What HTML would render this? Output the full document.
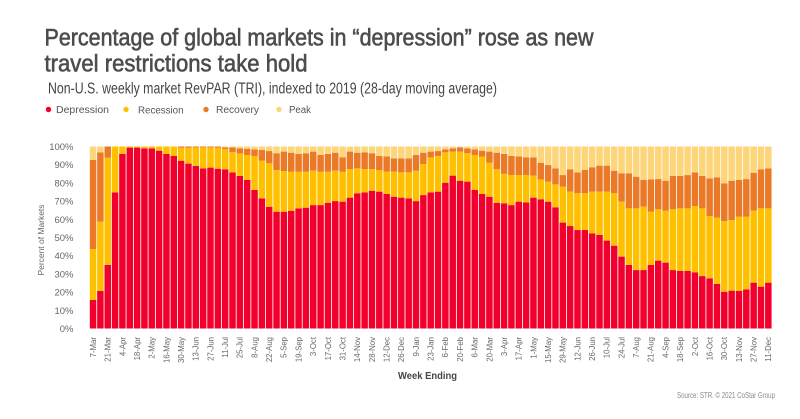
<!DOCTYPE html>
<html>
<head>
<meta charset="utf-8">
<style>
  html,body{margin:0;padding:0;background:#fff;}
  body{width:800px;height:419px;overflow:hidden;}
  svg{display:block;}
  text{font-family:"Liberation Sans",sans-serif;}
</style>
</head>
<body>
<svg id="chart" width="800" height="419" viewBox="0 0 800 419" xmlns="http://www.w3.org/2000/svg">
  <rect x="0" y="0" width="800" height="419" fill="#ffffff"/>
  <!-- Title -->
  <text x="44.5" y="45.5" font-size="24.5" fill="#4c4c4c" stroke="#4c4c4c" stroke-width="0.6" textLength="549" lengthAdjust="spacingAndGlyphs">Percentage of global markets in “depression” rose as new</text>
  <text x="44.5" y="71.5" font-size="24.5" fill="#4c4c4c" stroke="#4c4c4c" stroke-width="0.6" textLength="263" lengthAdjust="spacingAndGlyphs">travel restrictions take hold</text>
  <text x="48" y="93.3" font-size="15.5" fill="#454545" textLength="449" lengthAdjust="spacingAndGlyphs">Non-U.S. weekly market RevPAR (TRI), indexed to 2019 (28-day moving average)</text>

  <!-- Legend -->
  <circle cx="48.5" cy="109.5" r="2.7" fill="#f2002d"/>
  <text x="56" y="112.8" font-size="9.8" fill="#555" textLength="53" lengthAdjust="spacingAndGlyphs">Depression</text>
  <circle cx="126" cy="109.5" r="2.7" fill="#ffc000"/>
  <text x="138" y="113.3" font-size="9.8" fill="#555" textLength="45.5" lengthAdjust="spacingAndGlyphs">Recession</text>
  <circle cx="206" cy="109.5" r="2.7" fill="#ea7a28"/>
  <text x="216" y="112.8" font-size="9.8" fill="#555" textLength="43" lengthAdjust="spacingAndGlyphs">Recovery</text>
  <circle cx="279" cy="109.5" r="2.7" fill="#fdd57a"/>
  <text x="289" y="112.8" font-size="9.8" fill="#555" textLength="22" lengthAdjust="spacingAndGlyphs">Peak</text>

  <!-- Y axis labels -->
  <g font-size="9.5" fill="#666" text-anchor="end">
    <text x="73.5" y="150">100%</text>
    <text x="73.5" y="168.2">90%</text>
    <text x="73.5" y="186.4">80%</text>
    <text x="73.5" y="204.6">70%</text>
    <text x="73.5" y="222.8">60%</text>
    <text x="73.5" y="241">50%</text>
    <text x="73.5" y="259.2">40%</text>
    <text x="73.5" y="277.4">30%</text>
    <text x="73.5" y="295.6">20%</text>
    <text x="73.5" y="313.8">10%</text>
    <text x="73.5" y="332">0%</text>
  </g>
  <text transform="translate(44,240) rotate(-90)" font-size="8.6" fill="#666" text-anchor="middle" textLength="71" lengthAdjust="spacingAndGlyphs">Percent of Markets</text>

  <!-- Bars group (filled by script) -->
  <g id="bars"></g>

  <!-- X axis labels -->
  <g font-size="7.8" fill="#666" text-anchor="end">
    <text transform="translate(95.9,337) rotate(-90)">7-Mar</text>
    <text transform="translate(110.6,337) rotate(-90)">21-Mar</text>
    <text transform="translate(125.3,337) rotate(-90)">4-Apr</text>
    <text transform="translate(139.9,337) rotate(-90)">18-Apr</text>
    <text transform="translate(154.6,337) rotate(-90)">2-May</text>
    <text transform="translate(169.3,337) rotate(-90)">16-May</text>
    <text transform="translate(184.0,337) rotate(-90)">30-May</text>
    <text transform="translate(198.7,337) rotate(-90)">13-Jun</text>
    <text transform="translate(213.3,337) rotate(-90)">27-Jun</text>
    <text transform="translate(228.0,337) rotate(-90)">11-Jul</text>
    <text transform="translate(242.7,337) rotate(-90)">25-Jul</text>
    <text transform="translate(257.4,337) rotate(-90)">8-Aug</text>
    <text transform="translate(272.1,337) rotate(-90)">22-Aug</text>
    <text transform="translate(286.7,337) rotate(-90)">5-Sep</text>
    <text transform="translate(301.4,337) rotate(-90)">19-Sep</text>
    <text transform="translate(316.1,337) rotate(-90)">3-Oct</text>
    <text transform="translate(330.8,337) rotate(-90)">17-Oct</text>
    <text transform="translate(345.5,337) rotate(-90)">31-Oct</text>
    <text transform="translate(360.1,337) rotate(-90)">14-Nov</text>
    <text transform="translate(374.8,337) rotate(-90)">28-Nov</text>
    <text transform="translate(389.5,337) rotate(-90)">12-Dec</text>
    <text transform="translate(404.2,337) rotate(-90)">26-Dec</text>
    <text transform="translate(418.9,337) rotate(-90)">9-Jan</text>
    <text transform="translate(433.5,337) rotate(-90)">23-Jan</text>
    <text transform="translate(448.2,337) rotate(-90)">6-Feb</text>
    <text transform="translate(462.9,337) rotate(-90)">20-Feb</text>
    <text transform="translate(477.6,337) rotate(-90)">6-Mar</text>
    <text transform="translate(492.3,337) rotate(-90)">20-Mar</text>
    <text transform="translate(506.9,337) rotate(-90)">3-Apr</text>
    <text transform="translate(521.6,337) rotate(-90)">17-Apr</text>
    <text transform="translate(536.3,337) rotate(-90)">1-May</text>
    <text transform="translate(551.0,337) rotate(-90)">15-May</text>
    <text transform="translate(565.7,337) rotate(-90)">29-May</text>
    <text transform="translate(580.3,337) rotate(-90)">12-Jun</text>
    <text transform="translate(595.0,337) rotate(-90)">26-Jun</text>
    <text transform="translate(609.7,337) rotate(-90)">10-Jul</text>
    <text transform="translate(624.4,337) rotate(-90)">24-Jul</text>
    <text transform="translate(639.1,337) rotate(-90)">7-Aug</text>
    <text transform="translate(653.7,337) rotate(-90)">21-Aug</text>
    <text transform="translate(668.4,337) rotate(-90)">4-Sep</text>
    <text transform="translate(683.1,337) rotate(-90)">18-Sep</text>
    <text transform="translate(697.8,337) rotate(-90)">2-Oct</text>
    <text transform="translate(712.5,337) rotate(-90)">16-Oct</text>
    <text transform="translate(727.1,337) rotate(-90)">30-Oct</text>
    <text transform="translate(741.8,337) rotate(-90)">13-Nov</text>
    <text transform="translate(756.5,337) rotate(-90)">27-Nov</text>
    <text transform="translate(771.2,337) rotate(-90)">11-Dec</text>
  </g>

  <text x="398" y="379" font-size="10.2" font-weight="bold" fill="#454545" textLength="59" lengthAdjust="spacingAndGlyphs">Week Ending</text>
  <text x="677" y="398" font-size="8.2" fill="#8a8a8a" textLength="98" lengthAdjust="spacingAndGlyphs">Source: STR. © 2021 CoStar Group</text>
</svg>
<script>
(function(){
  var d = [
    [15.7,43.7,92.6],[20.6,58.7,96.8],[34.9,93.9,100],[74.8,100,100],[96,100,100],
    [99.4,100,100],[99.4,100,100],[99,100,100],[99,100,100],[97.7,100,100],
    [95.9,100,100],[94.8,100,100],[92.2,99.3,100],[90.6,99.3,100],[89.3,99.5,100],
    [88.0,99.5,100],[88.4,99.5,100],[87.8,99.3,100],[87.5,98.5,99.5],[85.8,97,99.5],
    [83.8,96.2,99],[81.6,95.3,98.8],[76.1,94.8,98.4],[71.5,92.2,98.1],[66.9,90.8,97.5],
    [64.2,87,96.3],[64.2,86.5,97.2],[64.7,86.1,96.6],[66,86.1,95.9],[66.4,86.1,96.3],
    [67.8,86.7,97.2],[67.8,86.1,95.4],[69.1,86.1,95.9],[70,86.7,96.6],[69.7,86.1,94.1],
    [71.9,87.6,97.2],[74.3,88,96.6],[74.8,87.6,96.8],[75.7,87.6,96.3],[75.2,87,94.8],
    [73.9,86.2,94.5],[72.4,86.2,93.5],[71.9,85.8,93.5],[71.5,85.8,93.5],[70,86.7,95.3],
    [73.3,90.4,96.6],[74.8,94,97.2],[75.2,94.8,97.5],[80.1,96.8,98.4],[84,97.2,99],
    [81.2,97.2,99.5],[80.7,96.3,99],[76.1,95.3,98.4],[73.9,94.5,97.7],[72.4,91.1,97.2],
    [69.1,87.5,96.6],[68.8,85,96],[67.8,84.3,94.8],[69.7,84.3,94.5],[69.3,84.3,94],
    [71.9,84,94],[71,81.9,91.1],[69.7,80.7,89.8],[66.6,79.2,88],[58.2,77.9,84.3],
    [56.3,75.2,87.5],[54.1,74.3,85.8],[54.1,74.3,87.1],[52.3,75.2,88.6],[51.4,75.2,89.5],
    [48.3,75.2,89.5],[45.5,74.3,86.7],[39.5,69.7,85.3],[34.9,66,85.3],[32.1,66,83.4],
    [32.1,67,81.6],[34.9,64.2,82],[37.3,65.5,82.1],[36.2,64.7,81.2],[32.1,65.5,83.8],
    [31.6,66,83.8],[31.6,66,84.3],[30.9,67.3,85.8],[28.8,66,83.8],[27.6,61.8,82.5],
    [24.5,60.9,83.1],[20.2,59,79.8],[20.8,59.6,81.2],[20.6,61.4,81.6],[21.5,61.4,82.1],
    [25.2,64.7,85.6],[23,66,87.5],[25.2,66,88]
  ];
  var cols = ["#f2002d","#ffc000","#ea7a28","#fdd57a"];
  var g = document.getElementById("bars");
  var ns = "http://www.w3.org/2000/svg";
  function y(p){ return 328.5 - p*1.82; }
  for (var i=0;i<d.length;i++){
    var x = 89.8 + i*7.34, w = 6.5;
    var b = [0, d[i][0], d[i][1], d[i][2], 100];
    for (var k=0;k<4;k++){
      var h = (b[k+1]-b[k])*1.82;
      if (h <= 0.01) continue;
      var r = document.createElementNS(ns,"rect");
      r.setAttribute("x", x.toFixed(2));
      r.setAttribute("y", y(b[k+1]).toFixed(2));
      r.setAttribute("width", w);
      r.setAttribute("height", h.toFixed(2));
      r.setAttribute("fill", cols[k]);
      g.appendChild(r);
    }
  }
})();
</script>
</body>
</html>
